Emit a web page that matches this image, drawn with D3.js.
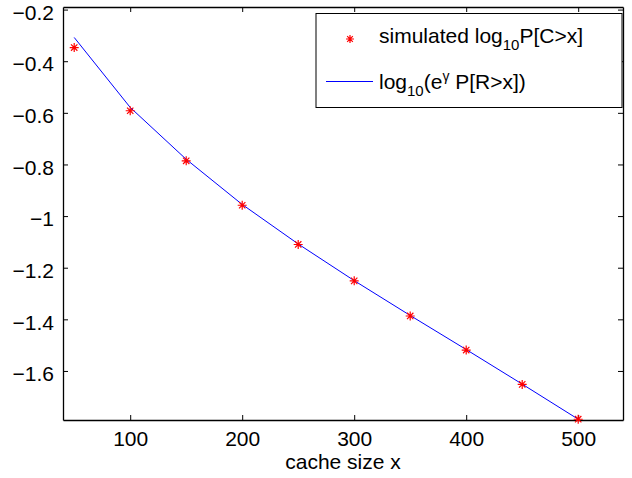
<!DOCTYPE html>
<html>
<head>
<meta charset="utf-8">
<script src="https://cdn.jsdelivr.net/npm/d3@7"></script>
<style>
  body { margin: 0; background: #fff; }
  text { font-family: "Liberation Sans", Arial, sans-serif; }
</style>
</head>
<body>
<script>
// data
const cacheSize = [50, 100, 150, 200, 250, 300, 350, 400, 450, 500];
const simulated = [-0.347, -0.592, -0.786, -0.958, -1.110, -1.251, -1.387, -1.519, -1.652, -1.787];
const approx = [-0.308, -0.579, -0.780, -0.955, -1.108, -1.250, -1.385, -1.517, -1.651, -1.787];
const xTicks = [100, 200, 300, 400, 500];
const yTicks = [-0.2, -0.4, -0.6, -0.8, -1, -1.2, -1.4, -1.6];

const W = 632, H = 478;
const m = { left: 63, top: 7, right: 9, bottom: 58 };
const fs = 21;

const svg = d3.select('body').append('svg').attr('width', W).attr('height', H);

const x = d3.scaleLinear().domain([40, 540]).range([m.left, W - m.right]);
const y = d3.scaleLinear().domain([-1.79, -0.19]).range([H - m.bottom, m.top]);

const fmt = (d) => String(d).replace('-', '\u2212');

// plot box
svg.append('rect')
  .attr('x', m.left).attr('y', m.top)
  .attr('width', W - m.left - m.right).attr('height', H - m.top - m.bottom)
  .attr('fill', 'white');

// axes with inward ticks, mirrored on top/right
const tl = 5;
svg.append('g').attr('transform', `translate(0,${H - m.bottom})`)
  .call(d3.axisBottom(x).tickValues(xTicks).tickSizeInner(-tl).tickSizeOuter(0).tickPadding(11).tickFormat(fmt));
svg.append('g').attr('transform', `translate(0,${m.top})`)
  .call(d3.axisTop(x).tickValues(xTicks).tickSizeInner(-tl).tickSizeOuter(0).tickFormat(''));
svg.append('g').attr('class', 'yax').attr('transform', `translate(${m.left},0)`)
  .call(d3.axisLeft(y).tickValues(yTicks).tickSizeInner(-tl).tickSizeOuter(0).tickPadding(9).tickFormat(fmt));
svg.append('g').attr('transform', `translate(${W - m.right},0)`)
  .call(d3.axisRight(y).tickValues(yTicks).tickSizeInner(-tl).tickSizeOuter(0).tickFormat(''));

svg.selectAll('.domain').attr('stroke', '#000').attr('stroke-width', 1.3);
svg.selectAll('.tick line').attr('stroke', '#000');
svg.selectAll('.tick text').attr('font-size', fs).attr('fill', '#000')
  .style('font-family', '"Liberation Sans", Arial, sans-serif');
// matlab sits the y labels a little below their ticks
svg.selectAll('.yax .tick text').attr('dy', '0.46em');

// x label
svg.append('text')
  .attr('x', (m.left + W - m.right) / 2).attr('y', 469)
  .attr('text-anchor', 'middle').attr('font-size', fs)
  .text('cache size x');

// line
const line = d3.line().x((d, i) => x(cacheSize[i])).y((d) => y(d));
svg.append('path').datum(approx)
  .attr('d', line).attr('fill', 'none').attr('stroke', '#0000ff').attr('stroke-width', 1);

// star markers
const star = (g, r) => {
  const a = r * 0.7071;
  g.append('path')
    .attr('d', `M${-r},0H${r}M0,${-r}V${r}M${-a},${-a}L${a},${a}M${-a},${a}L${a},${-a}`)
    .attr('stroke', '#ff0000').attr('stroke-width', 1.2).attr('fill', 'none');
};
svg.selectAll('g.star').data(simulated).enter().append('g')
  .attr('class', 'star')
  .attr('transform', (d, i) => `translate(${x(cacheSize[i])},${y(d)})`)
  .each(function () { star(d3.select(this), 4.5); });

// legend
const lg = svg.append('g');
lg.append('rect').attr('x', 316).attr('y', 13.5).attr('width', 306).attr('height', 94)
  .attr('fill', 'white').attr('stroke', '#000').attr('stroke-width', 1);
star(lg.append('g').attr('transform', 'translate(350,39)'), 4);
lg.append('line').attr('x1', 326).attr('x2', 373).attr('y1', 81.5).attr('y2', 81.5)
  .attr('stroke', '#0000ff').attr('stroke-width', 1);

const t1 = lg.append('text').attr('x', 379).attr('y', 43).attr('font-size', fs);
t1.append('tspan').text('simulated log');
t1.append('tspan').attr('dy', 7).attr('font-size', 15).text('10');
t1.append('tspan').attr('dy', -7).text('P[C>x]');

const t2 = lg.append('text').attr('x', 379).attr('y', 89).attr('font-size', fs);
t2.append('tspan').text('log');
t2.append('tspan').attr('dy', 7).attr('font-size', 15).text('10');
t2.append('tspan').attr('dy', -7).text('(e');
t2.append('tspan').attr('dy', -8).attr('font-size', 14).text('\u03b3');
t2.append('tspan').attr('dy', 8).text(' P[R>x])');
</script>
</body>
</html>
